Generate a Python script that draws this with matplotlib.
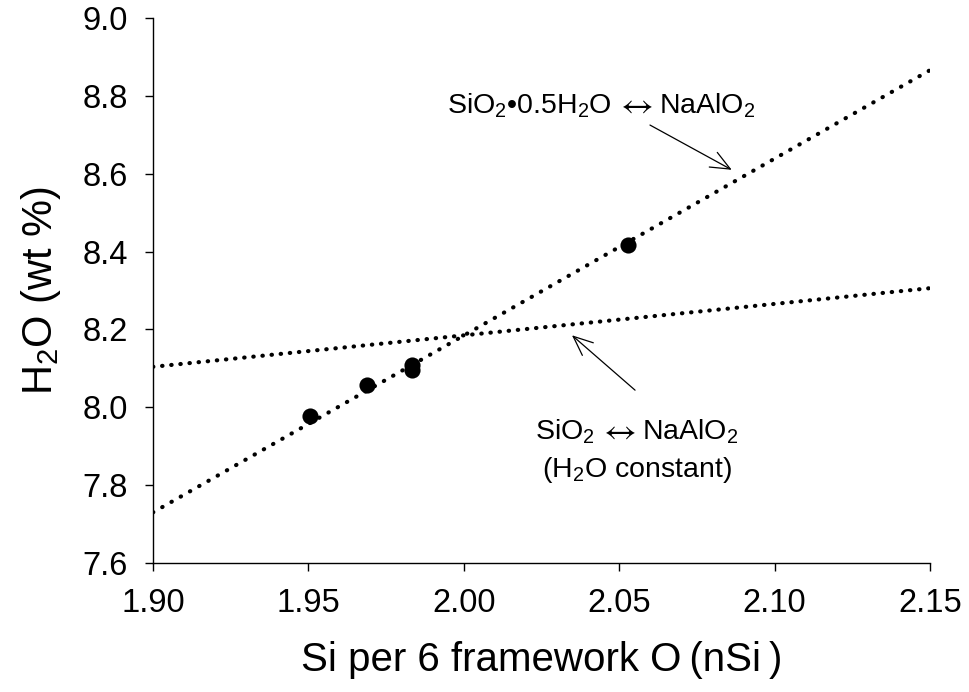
import matplotlib
matplotlib.use("Agg")
import matplotlib.pyplot as plt
from matplotlib.offsetbox import TextArea, HPacker, AnnotationBbox
import numpy as np

plt.rcParams['font.family'] = ['Liberation Sans', 'DejaVu Sans']
plt.rcParams['mathtext.fontset'] = 'custom'
plt.rcParams['mathtext.rm'] = 'Liberation Sans'
plt.rcParams['mathtext.it'] = 'Liberation Sans:italic'
plt.rcParams['mathtext.bf'] = 'Liberation Sans:bold'

# data
nsi = [1.9505, 1.969, 1.9833, 1.9833, 2.0528]
h2o = [7.978, 8.058, 8.096, 8.108, 8.416]

# trend lines (endpoints)
steep_x = [1.90, 2.15]
steep_y = [7.73, 8.866]
flat_x = [1.90, 2.15]
flat_y = [8.104, 8.306]

xticks = [1.90, 1.95, 2.00, 2.05, 2.10, 2.15]
yticks = [7.6, 7.8, 8.0, 8.2, 8.4, 8.6, 8.8, 9.0]

fig = plt.figure(figsize=(9.7, 6.92), dpi=100)
ax = fig.add_axes([0.1577, 0.1864, 0.8011, 0.7876])

ax.plot(steep_x, steep_y, linestyle=(0, (0.1, 2.45)), color='black', lw=3.0,
        dash_capstyle='round')
ax.plot(flat_x, flat_y, linestyle=(0, (0.1, 2.1)), color='black', lw=3.0,
        dash_capstyle='round')
ax.scatter(nsi, h2o, s=135, color='black', zorder=3, linewidths=0)

ax.set_xlim(1.90, 2.15)
ax.set_ylim(7.6, 9.0)
ax.set_xticks(xticks)
ax.set_xticklabels([f"{v:.2f}" for v in xticks])
ax.set_yticks(yticks)
ax.set_yticklabels([f"{v:.1f}" for v in yticks])
ax.tick_params(direction='out', length=6, width=1, labelsize=23.5, pad=12)
for s in ['top', 'right']:
    ax.spines[s].set_visible(False)
for s in ['left', 'bottom']:
    ax.spines[s].set_linewidth(1)

ax.set_xlabel('Si per 6 framework O\u2009(nSi\u2009)', fontsize=29, labelpad=16)
ax.set_ylabel(r'H$_2$O (wt %)', fontsize=30, labelpad=14)


def reaction_label(left, right):
    tp = dict(fontsize=20.5, family=['Liberation Sans', 'DejaVu Sans'])
    ap = dict(fontsize=24, math_fontfamily='stix')
    return HPacker(children=[TextArea(left, textprops=tp),
                             TextArea(r'$\leftrightarrow$', textprops=ap),
                             TextArea(right, textprops=tp)],
                   align='baseline', pad=0, sep=4)


arrow_kw = dict(arrowstyle='->,head_length=0.7,head_width=0.3', color='black',
                lw=0.9, shrinkA=0, shrinkB=0, mutation_scale=20)

lab1 = reaction_label('SiO$_2$•0.5H$_2$O', 'NaAlO$_2$')
ax.add_artist(AnnotationBbox(lab1, (2.0441, 8.776), xycoords='data',
                             frameon=False, box_alignment=(0.5, 0.5), pad=0))
ax.annotate('', xy=(2.0862, 8.61), xytext=(2.0599, 8.725), arrowprops=arrow_kw)

lab2 = reaction_label('SiO$_2$', 'NaAlO$_2$')
ax.add_artist(AnnotationBbox(lab2, (2.0557, 7.938), xycoords='data',
                             frameon=False, box_alignment=(0.5, 0.5), pad=0))
ax.text(2.0557, 7.820, '(H$_2$O constant)', fontsize=20.5,
        ha='center', va='baseline')
ax.annotate('', xy=(2.0348, 8.185), xytext=(2.0551, 8.044), arrowprops=arrow_kw)

fig.savefig('out.png', dpi=100)
